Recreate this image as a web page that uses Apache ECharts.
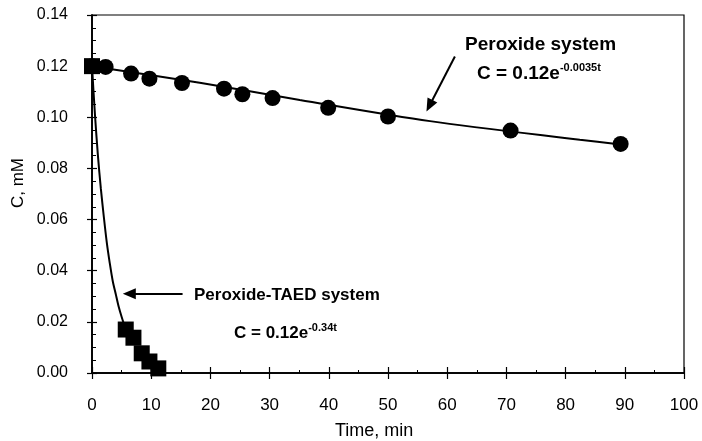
<!DOCTYPE html>
<html>
<head>
<meta charset="utf-8">
<script src="https://cdn.jsdelivr.net/npm/echarts@6/dist/echarts.min.js"></script>
<style>html,body{margin:0;padding:0;background:#fff}#c{width:702px;height:441px}</style>
</head>
<body>
<div id="c"></div>
<script>
// ---- data ----
const peroxideTime = [0, 2.3, 6.6, 9.7, 15.2, 22.3, 25.4, 30.5, 39.9, 50.0, 70.7, 89.3];
const peroxideC    = [0.120, 0.1197, 0.1171, 0.1151, 0.1134, 0.1112, 0.1090, 0.1075, 0.1037, 0.1003, 0.0948, 0.0896];
const taedTime = [0, 5.7, 7.0, 8.4, 9.7, 11.2];
const taedC    = [0.120, 0.0170, 0.0138, 0.0077, 0.0045, 0.0018];
// fitted curves as drawn in the reference
const peroxideFitTime = [0, 18.2, 35.1, 57.1, 82.4, 89.3];
const peroxideFitC    = [0.1200, 0.1135, 0.1068, 0.0985, 0.0912, 0.0894];
const taedFitTime = [0, 0.5, 1, 1.5, 2, 2.5, 3, 3.5, 4, 4.5, 5, 5.7];
const taedFitC    = [0.120, 0.101, 0.085, 0.072, 0.061, 0.051, 0.043, 0.036, 0.031, 0.026, 0.022, 0.017];
const xTickLabels = ['0','10','20','30','40','50','60','70','80','90','100'];
const yTickLabels = ['0.00','0.02','0.04','0.06','0.08','0.10','0.12','0.14'];

const pairs = (xs, ys) => xs.map((x, i) => [x, ys[i]]);
const FONT = 'Liberation Sans, Arial, sans-serif';
const chart = echarts.init(document.getElementById('c'), null, {renderer: 'canvas'});

const baseX = {type: 'value', min: 0, max: 100, interval: 10, position: 'bottom', splitLine: {show: false},
  axisLine: {lineStyle: {color: '#000', width: 1.5}}};
const baseY = {type: 'value', min: 0, max: 0.14, interval: 0.02, position: 'left', splitLine: {show: false},
  axisLine: {lineStyle: {color: '#000', width: 1.5}}};

chart.setOption({
  animation: false,
  backgroundColor: '#fff',
  grid: {left: 92, top: 15, right: 18, bottom: 68, show: true, borderColor: '#000', borderWidth: 1.2, containLabel: false},
  xAxis: [
    Object.assign({}, baseX, {
      axisTick: {show: true, inside: false, length: 6, lineStyle: {color: '#000', width: 1.2}},
      axisLabel: {margin: 24, fontFamily: FONT, fontSize: 17, color: '#000',
        formatter: (v, i) => xTickLabels[i]}
    }),
    Object.assign({}, baseX, {
      axisTick: {show: true, inside: true, length: 6, lineStyle: {color: '#000', width: 1.2}},
      minorTick: {show: true, splitNumber: 2, length: 3, lineStyle: {color: '#000', width: 1}},
      axisLabel: {show: false}
    })
  ],
  yAxis: [
    Object.assign({}, baseY, {
      axisTick: {show: true, inside: false, length: 5, lineStyle: {color: '#000', width: 1.2}},
      axisLabel: {margin: 24, fontFamily: FONT, fontSize: 16, color: '#000',
        formatter: (v, i) => yTickLabels[i]}
    }),
    Object.assign({}, baseY, {
      axisTick: {show: true, inside: true, length: 5, lineStyle: {color: '#000', width: 1.2}},
      minorTick: {show: true, splitNumber: 4, length: 4, lineStyle: {color: '#000', width: 1}},
      axisLabel: {show: false}
    })
  ],
  series: [
    {type: 'line', data: pairs(peroxideFitTime, peroxideFitC), showSymbol: false, symbol: 'none', smooth: 0.3,
      lineStyle: {color: '#000', width: 2}, z: 2,
      markLine: {silent: true, symbol: ['none', 'triangle'], symbolSize: [11, 13], animation: false,
        label: {show: false}, lineStyle: {color: '#000', width: 2, type: 'solid', opacity: 1},
        itemStyle: {color: '#000', opacity: 1},
        data: [
          [{coord: [61.3, 0.1238]}, {coord: [57.0, 0.1045]}],
          [{coord: [15.3, 0.0310]}, {coord: [6.3, 0.0310]}]
        ]}},
    {type: 'line', data: pairs(taedFitTime, taedFitC), showSymbol: false, symbol: 'none', smooth: 0.3,
      lineStyle: {color: '#000', width: 2}, z: 2},
    {type: 'scatter', data: pairs(peroxideTime, peroxideC), symbol: 'circle', symbolSize: 16,
      itemStyle: {color: '#000', opacity: 1}, z: 3},
    {type: 'scatter', data: pairs(taedTime, taedC), symbol: 'rect', symbolSize: 16,
      itemStyle: {color: '#000', opacity: 1}, z: 4}
  ],
  graphic: [
    {type: 'text', left: 465, top: 35, style: {text: 'Peroxide system', font: 'bold 19px ' + FONT, fill: '#000'}},
    {type: 'text', left: 477, top: 62, style: {
      text: '{a|C = 0.12e}{b|-0.0035t}', fill: '#000',
      rich: {a: {font: 'bold 19px ' + FONT, fill: '#000', lineHeight: 24},
             b: {font: 'bold 11px ' + FONT, fill: '#000', verticalAlign: 'top', lineHeight: 24}}}},
    {type: 'text', left: 194, top: 287, style: {text: 'Peroxide-TAED system', font: 'bold 17px ' + FONT, fill: '#000'}},
    {type: 'text', left: 234, top: 322, style: {
      text: '{a|C = 0.12e}{b|-0.34t}', fill: '#000',
      rich: {a: {font: 'bold 17px ' + FONT, fill: '#000', lineHeight: 22},
             b: {font: 'bold 11px ' + FONT, fill: '#000', verticalAlign: 'top', lineHeight: 22}}}},
    {type: 'text', left: 335, top: 422, style: {text: 'Time, min', font: '18px ' + FONT, fill: '#000'}},
    {type: 'text', x: 18, y: 183, rotation: Math.PI / 2, style: {text: 'C, mM', font: '17px ' + FONT, fill: '#000', align: 'center', verticalAlign: 'middle'}}
  ]
});
</script>
</body>
</html>
